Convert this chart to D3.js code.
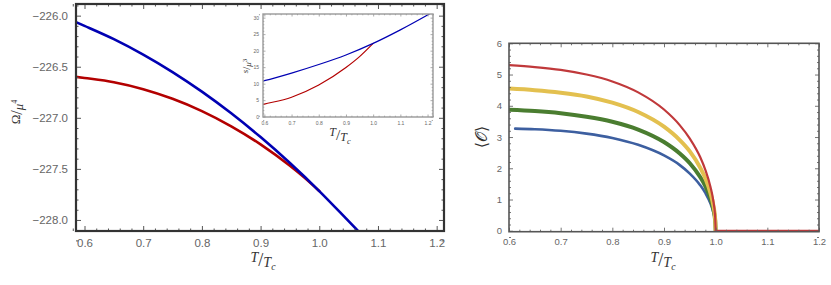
<!DOCTYPE html>
<html>
<head>
<meta charset="utf-8">
<script src="https://cdn.jsdelivr.net/npm/d3@7"></script>
<style>
  body { margin: 0; background: #fff; }
  svg { display: block; }
  .tick text { font-family: "Liberation Sans", Arial, sans-serif; fill: #666; }
  .domain { display: none; }
  .math { font-family: "Liberation Serif", "DejaVu Serif", serif; fill: #333; }
</style>
</head>
<body>
<div class="chart"></div>
<script>
// ---------------- data ----------------
// left panel: grand potential vs T/Tc
const tOmega       = [0.58, 0.6, 0.65, 0.7, 0.75, 0.8, 0.85, 0.9, 0.95, 1.0, 1.05, 1.08];
const omegaNormal  = [-226.05, -226.10, -226.23, -226.381, -226.552, -226.744, -226.956, -227.189, -227.443, -227.717, -228.012, -228.19];
const tOmegaCond   = [0.58, 0.6, 0.65, 0.7, 0.75, 0.8, 0.85, 0.9, 0.95, 0.975, 1.0];
const omegaCond    = [-226.595, -226.61, -226.652, -226.72, -226.814, -226.934, -227.083, -227.26, -227.47, -227.588, -227.717];

// inset: entropy
const tS        = [0.58, 0.6, 0.7, 0.8, 0.9, 1.0, 1.1, 1.2, 1.23];
const sNormal   = [10.5, 10.9, 13.2, 15.8, 18.7, 22.2, 26.3, 30.8, 32.2];
const tSCond    = [0.58, 0.6, 0.7, 0.8, 0.9, 0.95, 1.0];
const sCond     = [3.4, 3.8, 5.9, 9.6, 14.9, 18.2, 22.2];

// right panel: condensate
const tOp      = [0.6, 0.65, 0.7, 0.75, 0.8, 0.85, 0.9, 0.93, 0.95, 0.97, 0.98, 0.99, 0.995, 0.999, 1.0];
const opRed    = [5.30, 5.24, 5.15, 5.00, 4.78, 4.43, 3.88, 3.39, 2.95, 2.36, 1.95, 1.40, 1.00, 0.45, 0];
const opYellow = [4.55, 4.50, 4.42, 4.30, 4.10, 3.80, 3.33, 2.91, 2.54, 2.02, 1.68, 1.20, 0.86, 0.39, 0];
const opGreen  = [3.87, 3.83, 3.76, 3.65, 3.49, 3.24, 2.84, 2.48, 2.16, 1.72, 1.43, 1.02, 0.73, 0.33, 0];
const tOpBlue  = [0.612, 0.65, 0.7, 0.75, 0.8, 0.85, 0.9, 0.93, 0.95, 0.97, 0.98, 0.99, 0.995, 0.999, 1.0];
const opBlue   = [3.27, 3.25, 3.20, 3.11, 2.97, 2.75, 2.41, 2.11, 1.83, 1.46, 1.21, 0.87, 0.62, 0.28, 0];
const tOpZero  = [1.0, 1.2];
const opZero   = [0, 0];

// ticks
const leftXTicks  = [0.6, 0.7, 0.8, 0.9, 1.0, 1.1, 1.2];
const leftYTicks  = [-228.0, -227.5, -227.0, -226.5, -226.0];
const insetXTicks = [0.6, 0.7, 0.8, 0.9, 1.0, 1.1, 1.2];
const insetYTicks = [0, 5, 10, 15, 20, 25, 30];
const rightXTicks = [0.6, 0.7, 0.8, 0.9, 1.0, 1.1, 1.2];
const rightYTicks = [0, 1, 2, 3, 4, 5, 6];

const W = 831, H = 285;

const svg = d3.select(".chart").append("svg")
    .attr("width", W)
    .attr("height", H);

const zip = (xs, ys) => xs.map((x, i) => [x, ys[i]]);

// minor ticks between majors
function minors(majors, n, lo, hi) {
    const step = (majors[1] - majors[0]) / n;
    const out = [];
    const start = majors[0] - Math.ceil((majors[0] - lo) / step) * step;
    for (let v = start; v <= hi + 1e-9; v += step) {
        const isMajor = majors.some(m => Math.abs(m - v) < step / 10);
        if (!isMajor) out.push(+v.toFixed(6));
    }
    return out;
}

// Mathematica-style frame: ticks pointing inward on all four sides
function drawFrame(g, x, y, o) {
    const [x0, x1] = x.range(), [y0, y1] = y.range();
    const xd = x.domain(), yd = y.domain();
    const xMin = minors(o.xTicks, o.xMinor, xd[0], xd[1]);
    const yMin = minors(o.yTicks, o.yMinor, yd[0], yd[1]);

    const put = (axis, tx, ty) => g.append("g").attr("transform", `translate(${tx},${ty})`).call(axis);

    // bottom (labelled)
    const b = put(d3.axisBottom(x).tickValues(o.xTicks).tickSize(-o.major).tickPadding(o.pad).tickFormat(o.xFmt), 0, y0);
    b.selectAll("text").style("font-size", o.font + "px");
    put(d3.axisBottom(x).tickValues(xMin).tickSize(-o.minor).tickFormat(""), 0, y0);
    // top
    put(d3.axisTop(x).tickValues(o.xTicks).tickSize(-o.major).tickFormat(""), 0, y1);
    put(d3.axisTop(x).tickValues(xMin).tickSize(-o.minor).tickFormat(""), 0, y1);
    // left (labelled)
    const l = put(d3.axisLeft(y).tickValues(o.yTicks).tickSize(-o.major).tickPadding(o.pad).tickFormat(o.yFmt), x0, 0);
    l.selectAll("text").style("font-size", o.font + "px");
    put(d3.axisLeft(y).tickValues(yMin).tickSize(-o.minor).tickFormat(""), x0, 0);
    // right
    put(d3.axisRight(y).tickValues(o.yTicks).tickSize(-o.major).tickFormat(""), x1, 0);
    put(d3.axisRight(y).tickValues(yMin).tickSize(-o.minor).tickFormat(""), x1, 0);

    g.selectAll(".tick line").attr("stroke", o.tickColor).attr("stroke-width", o.tickWidth);

    g.append("rect")
        .attr("x", x0).attr("y", y1)
        .attr("width", x1 - x0).attr("height", y0 - y1)
        .attr("fill", "none")
        .attr("stroke", o.frameColor)
        .attr("stroke-width", o.frameWidth);
}

function clip(id, x, y) {
    const [x0, x1] = x.range(), [y0, y1] = y.range();
    svg.append("clipPath").attr("id", id)
        .append("rect").attr("x", x0).attr("y", y1).attr("width", x1 - x0).attr("height", y0 - y1);
}

function curve(g, x, y, pts, color, w) {
    g.append("path")
        .datum(pts)
        .attr("fill", "none")
        .attr("stroke", color)
        .attr("stroke-width", w)
        .attr("stroke-linecap", "round")
        .attr("d", d3.line().x(d => x(d[0])).y(d => y(d[1])).curve(d3.curveMonotoneX));
}

// "T/T_c" style label
function fracLabel(g, cx, cy, num, den, sub, size, rotate) {
    const t = g.append("text").attr("class", "math")
        .attr("text-anchor", "middle")
        .attr("transform", `translate(${cx},${cy})` + (rotate ? " rotate(-90)" : ""))
        .style("font-size", size + "px");
    t.append("tspan").attr("font-style", "italic").attr("dy", -size * 0.3).text(num);
    t.append("tspan").attr("dy", size * 0.3).style("font-size", (size * 1.3) + "px").text("/");
    t.append("tspan").attr("font-style", "italic").attr("dy", size * 0.1).text(den);
    if (sub) t.append("tspan").attr("font-style", "italic").attr("dy", size * 0.2)
        .style("font-size", (size * 0.7) + "px").text(sub);
    return t;
}

// ================= left panel =================
const xL = d3.scaleLinear().domain([0.5855, 1.2125]).range([76, 444]);
const yL = d3.scaleLinear().domain([-228.108, -225.886]).range([231, 4]);
const gL = svg.append("g");
clip("clipL", xL, yL);
const cL = gL.append("g").attr("clip-path", "url(#clipL)");
curve(cL, xL, yL, zip(tOmegaCond, omegaCond), "#b30000", 2.6);
curve(cL, xL, yL, zip(tOmega, omegaNormal), "#0000b3", 2.6);
drawFrame(gL, xL, yL, {
    xTicks: leftXTicks, yTicks: leftYTicks, xMinor: 5, yMinor: 5,
    major: 5, minor: 2.5, pad: 8, font: 11.5,
    xFmt: d3.format(".1f"), yFmt: d => d3.format(".1f")(d).replace("-", "\u2212"),
    tickColor: "#555", tickWidth: 1, frameColor: "#333", frameWidth: 2.2
});
fracLabel(gL, 263, 266, "T", "T", "c", 14, false);
// Omega / mu^4
const om = gL.append("text").attr("class", "math")
    .attr("text-anchor", "middle")
    .attr("transform", "translate(20,112) rotate(-90)")
    .style("font-size", "13px");
om.append("tspan").attr("dy", 0).text("\u03A9");
om.append("tspan").attr("dy", 2).style("font-size", "16px").text("/");
om.append("tspan").attr("font-style", "italic").attr("dy", 1).text("\u03BC");
om.append("tspan").attr("dy", -6).style("font-size", "8px").text("4");

// ================= inset =================
const xI = d3.scaleLinear().domain([0.595, 1.22]).range([263, 433]);
const yI = d3.scaleLinear().domain([-0.1, 31.1]).range([117, 14]);
const gI = svg.append("g");
gI.append("rect").attr("x", 263).attr("y", 14).attr("width", 170).attr("height", 103).attr("fill", "#fff");
clip("clipI", xI, yI);
const cI = gI.append("g").attr("clip-path", "url(#clipI)");
curve(cI, xI, yI, zip(tSCond, sCond), "#b30000", 1.2);
curve(cI, xI, yI, zip(tS, sNormal), "#0000b3", 1.2);
drawFrame(gI, xI, yI, {
    xTicks: insetXTicks, yTicks: insetYTicks, xMinor: 5, yMinor: 5,
    major: 2.5, minor: 1.3, pad: 4, font: 5,
    xFmt: d3.format(".1f"), yFmt: d3.format("d"),
    tickColor: "#888", tickWidth: 0.7, frameColor: "#999", frameWidth: 1.4
});
fracLabel(gI, 340, 140, "T", "T", "c", 12, false);
const sl = gI.append("text").attr("class", "math")
    .attr("text-anchor", "middle")
    .attr("transform", "translate(250,66) rotate(-90)")
    .style("font-size", "9px");
sl.append("tspan").attr("font-style", "italic").attr("dy", -2).text("s");
sl.append("tspan").attr("dy", 2).style("font-size", "11px").text("/");
sl.append("tspan").attr("font-style", "italic").attr("dy", 1).text("\u03BC");
sl.append("tspan").attr("dy", -4).style("font-size", "7px").text("3");

// ================= right panel =================
const xR = d3.scaleLinear().domain([0.6, 1.2]).range([509, 819]);
const yR = d3.scaleLinear().domain([-0.03, 6]).range([231.7, 43.3]);
const gR = svg.append("g");
clip("clipR", xR, yR);
const cR = gR.append("g").attr("clip-path", "url(#clipR)");
curve(cR, xR, yR, zip(tOpBlue, opBlue), "#3d5fa0", 2.6);
curve(cR, xR, yR, zip(tOp, opGreen), "#4a7d30", 4);
curve(cR, xR, yR, zip(tOp, opYellow), "#e3c04f", 4);
curve(cR, xR, yR, zip(tOp, opRed), "#c0393b", 2.2);
curve(cR, xR, yR, zip(tOpZero, opZero), "#c0393b", 2);
drawFrame(gR, xR, yR, {
    xTicks: rightXTicks, yTicks: rightYTicks, xMinor: 5, yMinor: 5,
    major: 4, minor: 2, pad: 7, font: 9.5,
    xFmt: d3.format(".1f"), yFmt: d3.format("d"),
    tickColor: "#666", tickWidth: 0.9, frameColor: "#555", frameWidth: 1.6
});
fracLabel(gR, 663, 266, "T", "T", "c", 14, false);
gR.append("text").attr("class", "math")
    .attr("text-anchor", "middle")
    .attr("transform", "translate(487,137) rotate(-90)")
    .style("font-size", "16px")
    .text("\u27E8\uD835\uDCAA\u27E9");
</script>
</body>
</html>
